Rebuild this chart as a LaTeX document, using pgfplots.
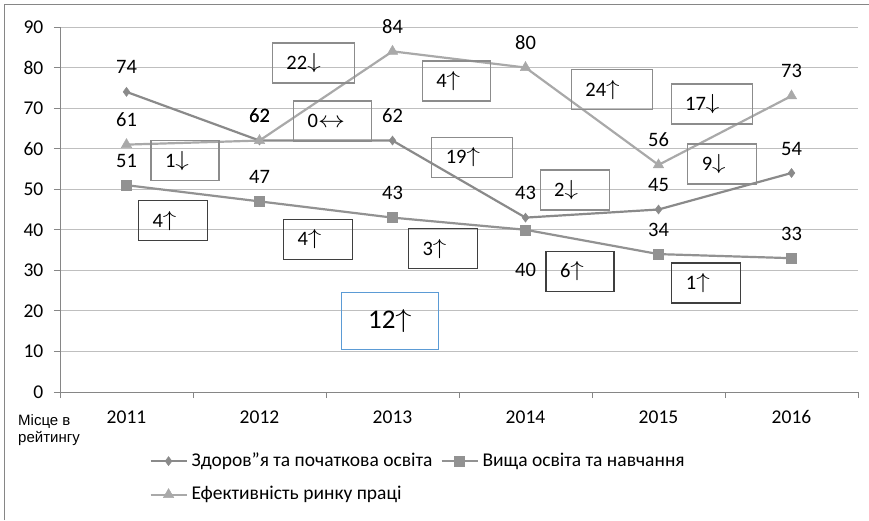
\documentclass[border=0pt]{standalone}
\usepackage{fontspec}
\setmainfont{Carlito}
\newfontfamily\arialf{Liberation Sans}
\usepackage{graphicx}
\usepackage{pgfplots}
\usepackage{pgfplotstable}
\pgfplotsset{compat=1.18}
\definecolor{sA}{HTML}{8A8A8A}
\definecolor{sB}{HTML}{929292}
\definecolor{sC}{HTML}{A9A9A9}
\definecolor{gridc}{HTML}{BFBFBF}
\definecolor{axc}{HTML}{868686}
\definecolor{boxg}{HTML}{8C8C8C}
\definecolor{boxd}{HTML}{3F3F3F}
\definecolor{boxb}{HTML}{5B9BD5}
\newcommand\up{\raisebox{1pt}{\scalebox{1.3}[1.05]{$\uparrow$}}}
\newcommand\dn{\raisebox{1pt}{\scalebox{1.3}[1.05]{$\downarrow$}}}
\newcommand\lr{\scalebox{1.3}[1.1]{$\leftrightarrow$}}
\pgfplotstableread{
x y
0 74
1 62
2 62
3 43
4 45
5 54
}\health
\pgfplotstableread{
x y
0 51
1 47
2 43
3 40
4 34
5 33
}\higher
\pgfplotstableread{
x y
0 61
1 62
2 84
3 80
4 56
5 73
}\labour
\pgfplotsset{lbl/.style={forget plot, draw=none, mark=none, nodes near coords,
  every node near coord/.append style={anchor=base, yshift=#1, inner sep=0pt, font=\fontsize{20.5}{24}\selectfont, color=black}}}
\begin{document}
\fontsize{19.5}{23}\selectfont
\begin{tikzpicture}[
  bx/.style={draw=boxg, line width=1.2pt, inner xsep=14pt, inner ysep=0pt, minimum height=40pt, text width=#1, align=left, font=\fontsize{20.5}{24}\selectfont},
  bd/.style={bx=#1, draw=boxd},
]
\useasboundingbox (0,0) rectangle (869pt,520pt);
\draw[color=axc, line width=1pt] (4.5pt,0pt) -- (4.5pt,515.5pt) -- (869pt,515.5pt);
\begin{axis}[
  at={(60pt,128pt)}, anchor=south west,
  scale only axis, width=798pt, height=365pt,
  xmin=-0.5, xmax=5.5, ymin=0, ymax=90,
  xtick={0,...,5}, xticklabels={2011,2012,2013,2014,2015,2016},
  minor xtick={-0.5,0.5,...,5.5},
  ytick={0,10,...,90},
  axis x line*=bottom, axis y line*=left,
  axis line style={color=axc, line width=1pt},
  ymajorgrids, major grid style={color=gridc, line width=1pt},
  tick align=outside,
  major x tick style={draw=none},
  minor x tick style={color=axc, line width=1pt},
  major y tick style={color=axc, line width=1pt},
  major tick length=6pt, minor tick length=6pt,
  xticklabel style={yshift=-6pt},
  yticklabel style={xshift=-4pt},
  /pgf/number format/assume math mode=true,
  tick label style={font=\fontsize{19.5}{23}\selectfont},
  clip=false,
  legend columns=2,
  legend style={at={(0.112,-0.155)}, anchor=north west, draw=none, fill=none,
    font=\fontsize{19.5}{23}\selectfont, row sep=13pt, inner xsep=0pt,
    /tikz/every odd column/.append style={column sep=2pt},
    /tikz/every even column/.append style={column sep=6pt}},
  legend cell align=left,
  legend image code/.code={\draw[mark repeat=2, mark phase=2, #1, line width=2pt] plot coordinates {(0pt,0pt) (18pt,0pt) (36pt,0pt)};},
]
\addplot[color=sA, line width=2.2pt, mark=diamond*, mark size=4.5pt, mark options={fill=sA, line width=0.5pt}] table[x=x,y=y] {\health};
\addlegendentry{Здоров"я та початкова освіта}
\addplot[color=sB, line width=2.2pt, mark=square*, mark size=5pt, mark options={fill=sB, line width=0.5pt}] table[x=x,y=y] {\higher};
\addlegendentry{Вища освіта та навчання}
\addplot[color=sC, line width=2.2pt, mark=triangle*, mark size=6pt, mark options={fill=sC, line width=0.5pt}] table[x=x,y=y] {\labour};
\addlegendentry{Ефективність ринку праці}
\addplot[lbl=18pt] table[x=x,y=y] {\health};
\addplot[lbl=18pt] table[x=x,y=y] {\labour};
\addplot[lbl=18pt] coordinates {(0,51) (1,47) (2,43) (4,34) (5,33)};
\addplot[lbl=-47pt] coordinates {(3,40)};

\node[bx=54pt] at (axis cs:1.406,81.1) {22\dn};
\node[bx=50pt] at (axis cs:1.55,66.8) {0\lr};
\node[bx=40pt] at (axis cs:2.48,76.7) {4\up};
\node[bx=53pt] at (axis cs:2.60,57.9) {19\up};
\node[bx=53pt] at (axis cs:3.65,74.5) {24\up};
\node[bx=53pt] at (axis cs:4.40,71.0) {17\dn};
\node[bx=41pt] at (axis cs:4.48,56.2) {9\dn};
\node[bx=41pt] at (axis cs:3.37,49.8) {2\dn};
\node[bx=40pt] at (axis cs:0.44,57.0) {1\dn};
\node[bd=41pt] at (axis cs:0.35,42.2) {4\up};
\node[bd=41pt] at (axis cs:1.44,37.7) {4\up};
\node[bd=41pt] at (axis cs:2.38,35.3) {3\up};
\node[bd=40pt] at (axis cs:3.41,29.8) {6\up};
\node[bd=41pt] at (axis cs:4.36,26.9) {1\up};
\node[draw=boxb, line width=1pt, minimum width=97pt, minimum height=57pt, inner sep=0pt, font=\fontsize{27}{30}\selectfont] at (axis cs:1.98,17.5) {12\up};
\end{axis}
\node[anchor=north west, align=left, inner sep=0pt, font=\arialf\fontsize{15}{17}\selectfont] at (18pt,106pt) {Місце в\\рейтингу};
\end{tikzpicture}
\end{document}
